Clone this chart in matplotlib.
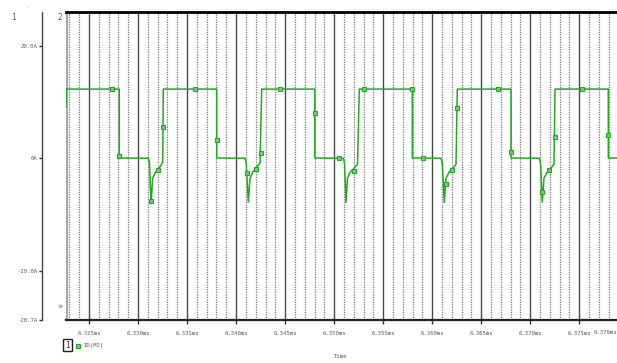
import matplotlib
matplotlib.use('Agg')
import matplotlib.pyplot as plt
import numpy as np

# ID(M2) trace, time in us, current in A
t_us = [6322.655, 6322.706, 6328.090, 6328.092,
        6331.047, 6331.170, 6331.323, 6331.496, 6331.731, 6332.067, 6332.312, 6332.516, 6332.577,
        6338.023, 6338.025,
        6340.909, 6341.031, 6341.245, 6341.419, 6341.755, 6342.102, 6342.438, 6342.612,
        6348.017, 6348.019,
        6350.933, 6351.055, 6351.209, 6351.360, 6351.667, 6352.024, 6352.381, 6352.565,
        6357.970, 6357.972,
        6360.897, 6361.019, 6361.233, 6361.406, 6361.763, 6362.120, 6362.426, 6362.559,
        6368.035, 6368.037,
        6370.921, 6371.043, 6371.227, 6371.400, 6371.757, 6372.114, 6372.420, 6372.522,
        6377.957, 6377.959, 6378.844]
id_a = [9.16, 12.30, 12.30, 0.05,
        0.00, -0.80, -8.09, -3.52, -2.63, -1.92, -1.33, -0.75, 12.30,
        12.30, 0.05,
        0.00, -0.80, -7.79, -3.52, -2.35, -1.56, -0.85, 12.30,
        12.30, 0.05,
        0.00, -0.80, -7.85, -3.52, -2.40, -1.78, -1.07, 12.30,
        12.30, 0.05,
        0.00, -0.80, -7.85, -3.52, -2.40, -1.78, -1.07, 12.30,
        12.30, 0.05,
        0.00, -0.80, -7.79, -3.52, -2.40, -1.78, -1.07, 12.30,
        12.30, 0.05, 0.05]

# symbol markers along the trace
mark_t_us = [6327.346, 6328.090, 6331.323, 6332.067, 6332.577, 6335.840, 6338.023, 6341.143,
             6342.030, 6342.571, 6344.478, 6348.017, 6350.494, 6352.024, 6353.044, 6357.970,
             6359.091, 6361.376, 6361.988, 6362.559, 6366.710, 6368.004, 6371.227, 6371.941,
             6372.522, 6375.245, 6377.957]
mark_a = [12.30, 0.44, -7.64, -2.17, 5.47, 12.30, 3.29, -2.63,
          -1.92, 0.85, 12.30, 8.04, -0.04, -2.35, 12.30, 12.30,
          0.04, -4.53, -2.17, 8.91, 12.30, 1.03, -5.99, -2.17,
          3.77, 12.30, 4.19]

xtick_ms = [6.325, 6.330, 6.335, 6.340, 6.345, 6.350, 6.355, 6.360, 6.365, 6.370, 6.375]
xtick_labels = ['6.325ms', '6.330ms', '6.335ms', '6.340ms', '6.345ms', '6.350ms',
                '6.355ms', '6.360ms', '6.365ms', '6.370ms', '6.375ms']
ytick_vals = [20.0, 0.0, -20.0, -28.7]
ytick_labels = ['20.0A', '0A', '-20.0A', '-28.7A']

W, H = 617, 363
fig = plt.figure(figsize=(W / 100, H / 100), dpi=100)
ax = fig.add_axes([66 / W, (H - 319.7) / H, (W - 66) / W, (319.7 - 12) / H])

green = '#22a822'
mono = 'DejaVu Sans Mono'
gray_txt = '#5a5a5a'
fs = 4.1

# spine position first: moving it resets the ticks
ax.spines['left'].set_position(('outward', 17.3))
ax.spines['left'].set_color('#444444')
ax.spines['left'].set_linewidth(1.0)
ax.spines['right'].set_visible(False)
ax.spines['top'].set_color('black')
ax.spines['top'].set_linewidth(2.0)
ax.spines['bottom'].set_color('#222222')
ax.spines['bottom'].set_linewidth(1.6)

t_ms = np.array(t_us) / 1000.0
ax.plot(t_ms, id_a, color=green, lw=1.1, zorder=3)
ax.plot(np.array(mark_t_us) / 1000.0, mark_a, ls='none', marker='s', ms=3.2,
        mfc='#78cc78', mec=green, mew=0.8, zorder=4)

x0, x1 = 6.322655, 6.378844
ax.set_xlim(x0, x1)
ax.set_ylim(-28.7, 26.0)

# grid: dotted every 1 us, solid every 5 us
minor = [6.323 + 0.001 * i for i in range(56)]
for xv in minor:
    if any(abs(xv - m) < 1e-7 for m in xtick_ms):
        ax.axvline(xv, color='#4a4a4a', lw=1.0, zorder=1)
    else:
        ax.axvline(xv, color='#777777', lw=0.9, ls=(0, (1, 1)), zorder=1)
ax.axvline(x0, color='#a8a8a8', lw=2.2, zorder=2)

ax.set_xticks(xtick_ms)
ax.set_xticklabels(xtick_labels, fontsize=fs, family=mono, color=gray_txt)
ax.tick_params(axis='x', length=3, width=1, color='#333333', pad=5)
ax.set_yticks(ytick_vals)
ax.set_yticklabels(ytick_labels, fontsize=fs, family=mono, color=gray_txt)
ax.tick_params(axis='y', length=2.5, width=1, color='#333333', pad=1)

ax.text(1.0, -0.035, '6.379ms', transform=ax.transAxes, ha='right', va='top',
        fontsize=fs, family=mono, color=gray_txt)

fig.text(13 / W, 1 - 18 / H, '1', fontsize=5.5, family=mono, color=gray_txt, ha='center', va='center')
fig.text(60 / W, 1 - 18 / H, '2', fontsize=5.5, family=mono, color=gray_txt, ha='center', va='center')
fig.text(60 / W, 1 - 307 / H, '»', fontsize=6, family=mono, color=gray_txt, ha='center', va='center')
fig.text(27 / W, 1 - 7 / H, '.', fontsize=4, color=green, ha='center', va='center')

fig.text(67.5 / W, 1 - 345 / H, '1', fontsize=5.5, family=mono, color='#333333', ha='center', va='center',
         bbox=dict(boxstyle='square,pad=0.25', fc='white', ec='#222222', lw=1.0))
fig.lines.append(plt.Line2D([78 / W], [1 - 346 / H], transform=fig.transFigure, ls='none',
                            marker='s', ms=3, mfc='#78cc78', mec=green, mew=0.8))
fig.text(83 / W, 1 - 346 / H, 'ID(M2)', fontsize=fs, family=mono, color=gray_txt, ha='left', va='center')
fig.text(341 / W, 1 - 356 / H, 'Time', fontsize=fs, family=mono, color=gray_txt, ha='center', va='center')

fig.savefig('out.png', dpi=100, facecolor='white')
